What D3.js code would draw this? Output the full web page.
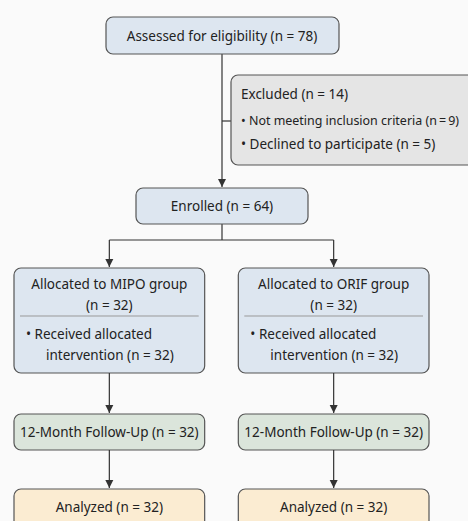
<!DOCTYPE html>
<html><head><meta charset="utf-8">
<script src="https://cdn.jsdelivr.net/npm/d3@7"></script>
<style>body{margin:0;background:#fafafa;}svg{display:block;font-family:"Noto Sans",sans-serif;}</style>
</head><body><svg id="c" width="468" height="521"></svg>
<script>
// flow content
var screened = ["Assessed for eligibility (n = 78)"];
var excluded = ["Excluded (n = 14)", "\u2022 Not meeting inclusion criteria (n\u2009=\u20099)", "\u2022 Declined to participate (n = 5)"];
var enrolled = ["Enrolled (n = 64)"];
var groups = ["MIPO", "ORIF"];
var allocTitle = ["Allocated to MIPO group", "Allocated to ORIF group"];
var allocN = [32, 32];
var received = [32, 32];
var followup = [32, 32];
var analyzed = [32, 32];

var svg = d3.select("#c");
var x = d3.scaleBand().domain(groups).range([14, 429]).paddingInner(0.15);
var stroke = "#555", txt = "#222";

svg.append("defs").append("marker").attr("id", "ar").attr("viewBox", "0 0 10 10")
  .attr("refX", 10).attr("refY", 5).attr("markerWidth", 7).attr("markerHeight", 7).attr("orient", "auto")
  .append("path").attr("d", "M0,0L10,5L0,10z").attr("fill", "#333");

function box(x0, y0, w, h, fill) {
  svg.append("rect").attr("x", x0).attr("y", y0).attr("width", w).attr("height", h)
    .attr("rx", 7).attr("fill", fill).attr("stroke", stroke).attr("stroke-width", 1.2);
}
function text(x0, y0, s, anchor) {
  return svg.append("text").attr("x", x0).attr("y", y0).attr("text-anchor", anchor || "middle")
    .attr("font-size", 13.5).attr("fill", txt).text(s);
}
function line(x1, y1, x2, y2, arrow) {
  var l = svg.append("line").attr("x1", x1).attr("y1", y1).attr("x2", x2).attr("y2", y2)
    .attr("stroke", "#333").attr("stroke-width", 1.2);
  if (arrow) l.attr("marker-end", "url(#ar)");
}

var cx = 222;
line(cx, 54, cx, 187, true);
line(cx, 121, 231, 121);
line(cx, 224, cx, 240);
var cols = groups.map(function(g){ return x(g) + x.bandwidth()/2; });
line(cols[0], 240, cols[1], 240);

box(106, 17, 233, 37, "#dde6f0");
text(cx, 41, screened[0]);

box(231, 75, 245, 90, "#e5e5e5");
text(241, 99, excluded[0], "start");
text(241, 125, excluded[1], "start").attr("font-size", 13).attr("textLength", 218).attr("lengthAdjust", "spacingAndGlyphs");
text(241, 149, excluded[2], "start");

box(136, 188, 172, 36, "#dde6f0");
text(cx, 211, enrolled[0]);

groups.forEach(function(g, i) {
  var x0 = x(g), w = x.bandwidth(), c = cols[i];
  line(c, 240, c, 267, true);
  box(x0, 268, w, 105, "#dde6f0");
  text(c, 289, allocTitle[i]);
  text(c, 310, "(n = " + allocN[i] + ")");
  svg.append("line").attr("x1", x0 + 6).attr("x2", x0 + w - 6).attr("y1", 316).attr("y2", 316)
    .attr("stroke", "#999").attr("stroke-width", 1);
  text(x0 + 12, 339, "\u2022 Received allocated", "start");
  text(x0 + 32, 360, "intervention (n = " + received[i] + ")", "start");
  line(c, 373, c, 413, true);
  box(x0, 414, w, 36, "#dbe5db");
  text(c, 437, "12-Month Follow-Up (n = " + followup[i] + ")");
  line(c, 450, c, 488, true);
  box(x0, 489, w, 40, "#fbecd2");
  text(c, 512, "Analyzed (n = " + analyzed[i] + ")");
});
</script></body></html>
